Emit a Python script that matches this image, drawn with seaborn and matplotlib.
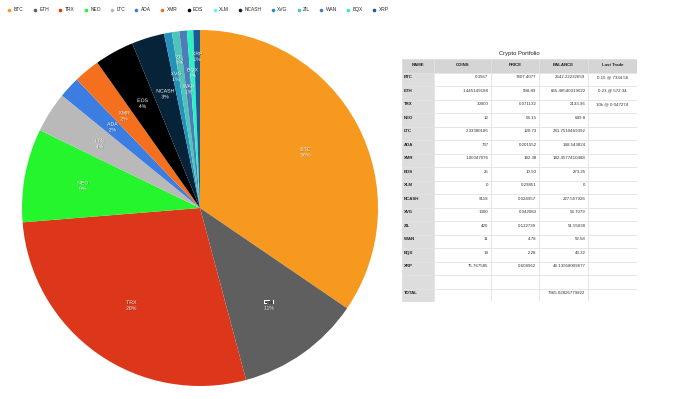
import numpy as np
import matplotlib
matplotlib.use("Agg")
import matplotlib.pyplot as plt
import matplotlib.patheffects as pe
from matplotlib.lines import Line2D
from matplotlib.patches import Rectangle
import seaborn as sns

# ---- data ----
names = ["BTC", "ETH", "TRX", "NEO", "LTC", "ADA", "XMR", "EOS", "XLM",
         "NCASH", "XVG", "ZIL", "WAN", "BQX", "XRP"]
coins = ["0.3567", "1.445149188", "30000", "12", "2.33380186", "737", "1.00047076",
         "25", "0", "9118", "1300", "420", "11", "19", "75.767585"]
prices = ["7407.4077", "598.89", "0.071132", "54.15", "120.73", "0.201552", "182.38",
          "10.93", "0.29851", "0.024957", "0.042083", "0.122739", "4.78", "2.28", "0.608962"]
balances = ["2642.22232659", "865.48540319022", "2133.96", "649.8", "281.7510469392",
            "148.543824", "182.4577410488", "273.25", "0", "227.557926", "54.7079",
            "51.55038", "52.58", "43.32", "46.13958009677"]
last_trade = ["0.15 @ 7334.56", "0.23 @ 572.34", "10k @ 0.047274"] + [""] * 12
pct_labels = ["36%", "11%", "28%", "9%", "4%", "2%", "2%", "4%", "0%",
              "3%", "1%", "1%", "1%", "1%", "1%"]
total_balance = "7365.02826779822"
headers = ["NAME", "COINS", "PRICE", "BALANCE", "Last Trade"]

coin_colors = ["#f7991f", "#5f5f5f", "#dc371a", "#25f52c", "#b9b9b9", "#3b7de0",
               "#f4701f", "#000000", "#5ef5f2", "#07233a", "#2592bb", "#4ec5b6",
               "#4d7cb8", "#2cf2c2", "#1a5b95"]

sns.set_theme(style="white")
plt.rcParams["font.family"] = ["Liberation Sans", "DejaVu Sans"]
palette = sns.color_palette(coin_colors)

fig = plt.figure(figsize=(6.8, 3.99), dpi=100)

# =======================
# Pie
# =======================
ax = fig.add_axes([22 / 680, 13 / 399, 356 / 680, 356 / 399])
values = [float(b) for b in balances]
wedges, _ = ax.pie(values, colors=palette, startangle=90, counterclock=False,
                   wedgeprops=dict(linewidth=0))
ax.set_xlim(-1, 1)
ax.set_ylim(-1, 1)
ax.set_aspect("equal")
ax.axis("off")

fig.canvas.draw()
renderer = fig.canvas.get_renderer()
placed = []
for w, n, p in zip(wedges, names, pct_labels):
    if w.theta2 - w.theta1 <= 0:
        continue
    ang = np.deg2rad((w.theta1 + w.theta2) / 2)
    d = 0.67
    t = ax.text(d * np.cos(ang), d * np.sin(ang), f"{n}\n{p}", ha="center", va="center",
                fontsize=3.7, color="white", linespacing=1.2,
                path_effects=[pe.withSimplePatchShadow(offset=(0.3, -0.3),
                                                       shadow_rgbFace="black", alpha=0.4)])
    # push small slice labels outward until they stop colliding
    while True:
        bb = t.get_window_extent(renderer).expanded(1.05, 1.45)
        if not any(bb.overlaps(o) for o in placed):
            break
        d += 0.01
        t.set_position((d * np.cos(ang), d * np.sin(ang)))
    placed.append(bb)

# legend across the top
handles = [Line2D([], [], marker="o", linestyle="", markersize=2.6,
                  markerfacecolor=c, markeredgewidth=0) for c in palette]
fig.legend(handles, names, loc="upper left", bbox_to_anchor=(0.006, 0.99), ncol=15,
           frameon=False, fontsize=3.5, handlelength=0.8, handletextpad=0.5,
           columnspacing=1.93, borderaxespad=0.3)

# =======================
# Table
# =======================
col_edges = [0, 32, 89, 137, 186, 235]
n_rows = 18
tax = fig.add_axes([402 / 680, (399 - 302) / 399, 235 / 680, 243 / 399])
tax.set_xlim(0, 235)
tax.set_ylim(n_rows, 0)
tax.axis("off")

tax.add_patch(Rectangle((0, 0), 235, 1, facecolor="#d5d5d5", edgecolor="none"))
tax.add_patch(Rectangle((0, 1), 32, n_rows - 1, facecolor="#dddddd", edgecolor="none"))
for y in range(n_rows + 1):
    tax.plot([0, 235], [y, y], color="#e2e2e2", lw=0.6)
for x in col_edges:
    tax.plot([x, x], [0, n_rows], color="#e2e2e2", lw=0.6)

fs = 3.2
for j, h in enumerate(headers):
    tax.text((col_edges[j] + col_edges[j + 1]) / 2, 0.45, h, ha="center", va="center",
             fontsize=fs, fontweight="bold", color="#222222")

rows = list(zip(names, coins, prices, balances, last_trade))
for i, row in enumerate(rows):
    y = i + 1 + 0.35
    tax.text(2, y, row[0], ha="left", va="center", fontsize=fs, fontweight="bold", color="#222222")
    for j in (1, 2, 3):
        tax.text(col_edges[j + 1] - 2.5, y, row[j], ha="right", va="center", fontsize=fs, color="#333333")
    tax.text((col_edges[4] + col_edges[5]) / 2, y, row[4], ha="center", va="center", fontsize=fs, color="#333333")

tax.text(2, n_rows - 1 + 0.35, "TOTAL", ha="left", va="center", fontsize=fs, fontweight="bold", color="#222222")
tax.text(col_edges[4] - 2.5, n_rows - 1 + 0.35, total_balance, ha="right", va="center", fontsize=fs, color="#333333")

fig.text(519 / 680, 1 - 53 / 399, "Crypto Portfolio", ha="center", va="center", fontsize=4.2, color="#222222")

fig.savefig("out.png", dpi=100)
